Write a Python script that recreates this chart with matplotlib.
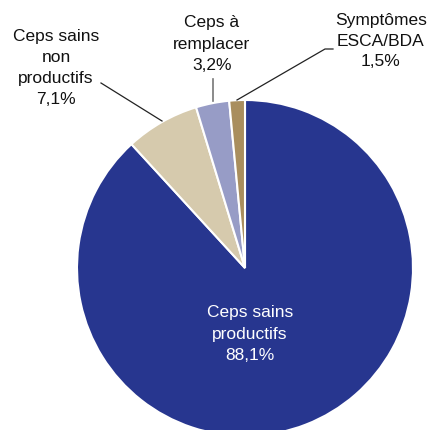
import matplotlib
matplotlib.use("Agg")
import matplotlib.pyplot as plt

labels = ["Ceps sains\nproductifs", "Ceps sains\nnon\nproductifs", "Ceps à\nremplacer", "Symptômes\nESCA/BDA"]
values = [88.1, 7.1, 3.2, 1.5]
colors = ["#27368F", "#D6CAAD", "#979CC6", "#A98E5E"]

plt.rcParams['font.family'] = ['Liberation Sans', 'DejaVu Sans']

fig = plt.figure(figsize=(4.29, 4.30), dpi=100)
ax = fig.add_axes([0, 0, 1, 1])

cx, cy, r = 245, 430 - 268, 168
ax.pie(values, colors=colors, startangle=90, counterclock=False,
       center=(cx, cy), radius=r, frame=True,
       wedgeprops=dict(edgecolor="white", linewidth=1.5))
ax.set_xlim(0, 429)
ax.set_ylim(0, 430)
ax.set_aspect('equal')
ax.axis('off')

def pct(v):
    return ("%.1f%%" % v).replace(".", ",")

fs = 12.5
ls = 1.5
# inside label
ax.text(250, 430 - 334, labels[0] + "\n" + pct(values[0]), color="white",
        ha="center", va="center", fontsize=fs, linespacing=ls)

# outside labels
ax.text(56, 430 - 68, labels[1] + "\n" + pct(values[1]), color="#111111",
        ha="center", va="center", fontsize=fs, linespacing=ls)
ax.plot([101, 162], [430 - 83, 430 - 121], color="#222222", lw=0.9)

ax.text(212, 430 - 44, labels[2] + "\n" + pct(values[2]), color="#111111",
        ha="center", va="center", fontsize=fs, linespacing=ls)
ax.plot([213, 213], [430 - 79, 430 - 101], color="#777777", lw=1.2)

ax.text(381, 430 - 41, labels[3] + "\n" + pct(values[3]), color="#111111",
        ha="center", va="center", fontsize=fs, linespacing=ls)
ax.plot([333, 325, 237], [430 - 49, 430 - 49, 430 - 100], color="#222222", lw=0.9)

fig.savefig("out.png", dpi=100)
